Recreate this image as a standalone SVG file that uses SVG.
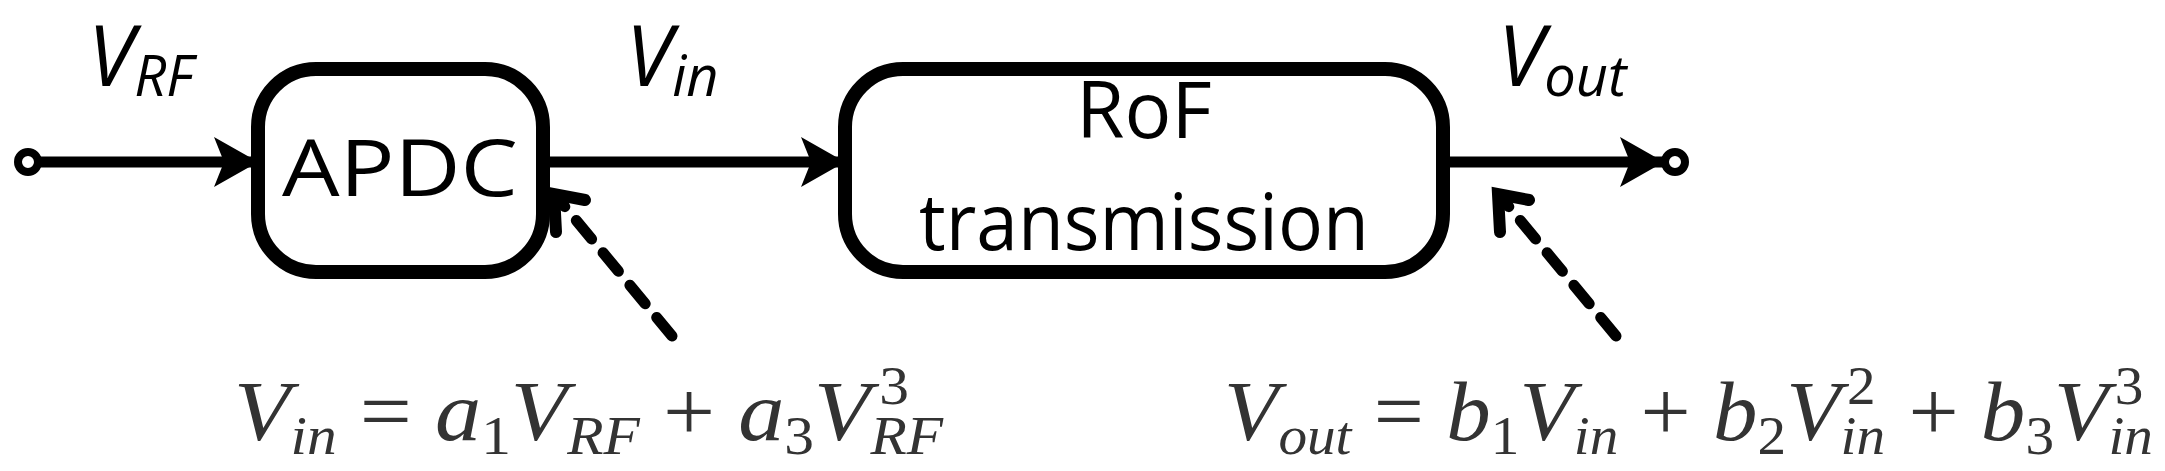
<svg xmlns="http://www.w3.org/2000/svg" width="2165" height="471" viewBox="0 0 2165 471">
<style>
.box{fill:#fff;stroke:#000;stroke-width:14}
.lbl{font-family:"Open Sans","DejaVu Sans",sans-serif;font-size:78px;fill:#000}
.var{font-family:"Open Sans","DejaVu Sans",sans-serif;font-style:italic;fill:#000}
.eq{font-family:"Liberation Serif",serif;font-style:italic;fill:#333}
.n{font-style:normal}
.s{font-size:54px}
.wire{stroke:#000;stroke-width:11;fill:none}
.dash{stroke:#000;stroke-width:11;fill:none;stroke-dasharray:24 18;stroke-linecap:round}
</style>
<defs>
<marker id="ah" markerUnits="userSpaceOnUse" markerWidth="50" markerHeight="50" refX="44" refY="25" orient="auto" viewBox="0 0 50 50">
<path d="M0,0 L44,25 L0,50 L10,25 Z" fill="#000"/>
</marker>
</defs>
<g id="connectors">
<line class="wire" x1="30" y1="162" x2="258" y2="162" marker-end="url(#ah)"/>
<line class="wire" x1="543" y1="162" x2="845" y2="162" marker-end="url(#ah)"/>
<line class="wire" x1="1443" y1="162" x2="1664" y2="162" marker-end="url(#ah)"/>
<circle cx="28" cy="162" r="10" fill="#fff" stroke="#000" stroke-width="8"/>
<circle cx="1675" cy="162" r="10" fill="#fff" stroke="#000" stroke-width="8"/>
<path class="dash" d="M672,336 L556,196"/>
<path d="M585,200 L554,194 L556,232" fill="none" stroke="#000" stroke-width="12" stroke-linecap="round"/>
<path class="dash" d="M1616,336 L1500,196"/>
<path d="M1529,200 L1498,194 L1500,232" fill="none" stroke="#000" stroke-width="12" stroke-linecap="round"/>
</g>
<g id="apdc">
<rect class="box" x="258" y="69" width="285" height="203" rx="58"/>
<text class="lbl" x="400" y="196" text-anchor="middle" font-size="82" textLength="236" lengthAdjust="spacingAndGlyphs">APDC</text>
</g>
<g id="rof">
<rect class="box" x="845" y="69" width="598" height="203" rx="58"/>
<text class="lbl" x="1144" y="138" text-anchor="middle">RoF</text>
<text class="lbl" x="1144" y="250" text-anchor="middle" textLength="450" lengthAdjust="spacingAndGlyphs">transmission</text>
</g>
<g id="labels">
<text class="var" x="88" y="86" font-size="84">V<tspan font-size="56" dy="10">RF</tspan></text>
<text class="var" x="626" y="86" font-size="84">V<tspan font-size="56" dy="10">in</tspan></text>
<text class="var" x="1498" y="86" font-size="84">V<tspan font-size="56" dy="10">out</tspan></text>
</g>
<g id="eq1">
<text class="eq" transform="translate(234,440) scale(1.1,1)" x="0" y="0" font-size="84">V<tspan class="s" dy="14">in</tspan><tspan class="n" dy="-14"> = </tspan>a<tspan class="n s" dy="14">1</tspan><tspan dy="-14">V</tspan><tspan class="s" dy="14">RF</tspan><tspan class="n" dy="-14"> + </tspan>a<tspan class="n s" dy="14">3</tspan><tspan dy="-14">V</tspan><tspan class="s" dy="14">RF</tspan><tspan class="n s" dx="-58" dy="-50">3</tspan></text>
</g>
<g id="eq2">
<text class="eq" transform="translate(1224,440) scale(1.06,1)" x="0" y="0" font-size="84">V<tspan class="s" dy="14">out</tspan><tspan class="n" dy="-14"> = </tspan>b<tspan class="n s" dy="14">1</tspan><tspan dy="-14">V</tspan><tspan class="s" dy="14">in</tspan><tspan class="n" dy="-14"> + </tspan>b<tspan class="n s" dy="14">2</tspan><tspan dy="-14">V</tspan><tspan class="s" dy="14">in</tspan><tspan class="n s" dx="-36" dy="-50">2</tspan><tspan class="n" dx="10" dy="36"> + </tspan>b<tspan class="n s" dy="14">3</tspan><tspan dy="-14">V</tspan><tspan class="s" dy="14">in</tspan><tspan class="n s" dx="-36" dy="-50">3</tspan></text>
</g>
</svg>
